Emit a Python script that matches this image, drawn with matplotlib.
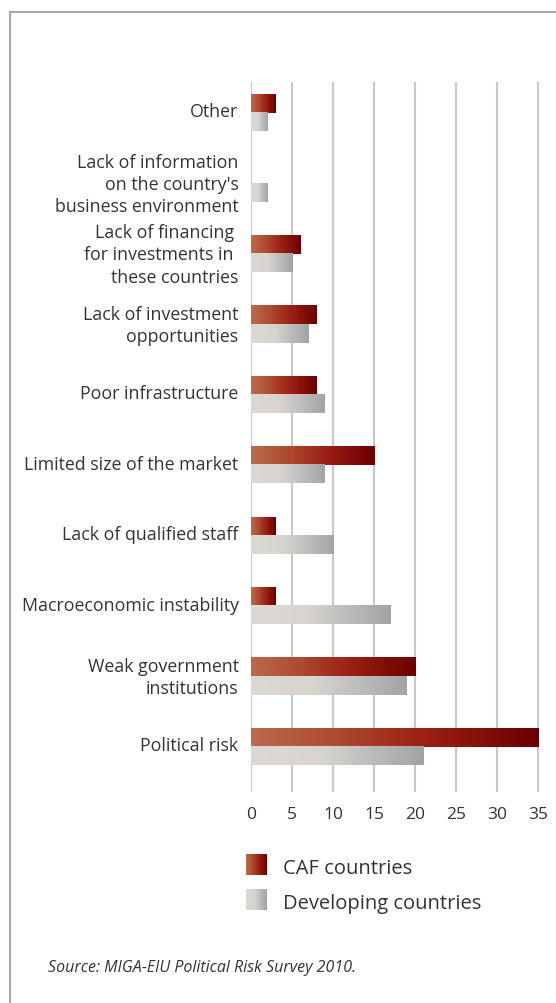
import numpy as np
import matplotlib
matplotlib.use('Agg')
import matplotlib.pyplot as plt
from matplotlib.colors import LinearSegmentedColormap

# data (bottom to top)
categories = ['Political risk', 'Weak government\ninstitutions', 'Macroeconomic instability',
              'Lack of qualified staff', 'Limited size of the market', 'Poor infrastructure',
              'Lack of investment\nopportunities', 'Lack of financing \nfor investments in \nthese countries',
              "Lack of information\non the country's\nbusiness environment", 'Other']
caf = [35, 20, 3, 3, 15, 8, 8, 6, 0, 3]
developing = [21, 19, 17, 10, 9, 9, 7, 5, 2, 2]
series_names = ['CAF countries', 'Developing countries']
xticks = [0, 5, 10, 15, 20, 25, 30, 35]

plt.rcParams['font.family'] = ['Open Sans', 'DejaVu Sans']

cmap_caf = LinearSegmentedColormap.from_list('caf', [(0, '#bc6a4e'), (0.3, '#ad4a30'), (0.6, '#9c2014'), (1, '#6a0000')])
cmap_dev = LinearSegmentedColormap.from_list('dev', [(0, '#dcd9d5'), (0.4, '#d8d5d0'), (1, '#a2a3a7')])
grad = np.linspace(0, 1, 256).reshape(1, -1)

fig = plt.figure(figsize=(5.56, 10.04), dpi=100)

# frame lines (top and left)
fig.add_artist(plt.Line2D([10/556, 1], [1 - 13/1004, 1 - 13/1004], color='#a8a8a8', lw=1.5))
fig.add_artist(plt.Line2D([10/556, 10/556], [0, 1 - 13/1004], color='#a8a8a8', lw=1.5))

ax = fig.add_axes([251/556, 1 - 793/1004, (539 - 251)/556, (793 - 83)/1004])
h = 0.26
y = np.arange(len(categories))
for i in range(len(categories)):
    if caf[i] > 0:
        ax.imshow(grad, cmap=cmap_caf, extent=[0, caf[i], y[i], y[i] + h], aspect='auto', zorder=3)
    if developing[i] > 0:
        ax.imshow(grad, cmap=cmap_dev, extent=[0, developing[i], y[i] - h, y[i]], aspect='auto', zorder=3)

ax.set_xlim(0, 35.1)
ax.set_ylim(-0.64, 9.44)
ax.set_aspect('auto')
ax.set_xticks(xticks)
ax.set_xticklabels([str(t) for t in xticks], fontsize=12.5, color='#333333')
ax.set_yticks(y + 0.05)
ax.set_yticklabels(categories, fontsize=12.8, color='#333333', linespacing=1.3)
ax.tick_params(axis='both', length=0)
ax.tick_params(axis='x', pad=10)
ax.tick_params(axis='y', pad=9)
ax.grid(axis='x', color='#c8c8c8', lw=1.5, zorder=0)
ax.set_axisbelow(True)
for s in ax.spines.values():
    s.set_visible(False)

# legend
for j, cm in enumerate([cmap_caf, cmap_dev]):
    top = 855 + j * 35
    lax = fig.add_axes([246/556, 1 - (top + 21)/1004, 21/556, 21/1004])
    lax.imshow(grad, cmap=cm, aspect='auto')
    lax.axis('off')
    fig.text(283/556, 1 - (top + 14)/1004, series_names[j], fontsize=14.5, color='#333333', va='center', ha='left')

fig.text(48/556, 1 - 968/1004, 'Source: MIGA-EIU Political Risk Survey 2010.', fontsize=11.5, style='italic',
         color='#333333', va='center', ha='left')

fig.savefig('out.png', dpi=100, facecolor='white')
